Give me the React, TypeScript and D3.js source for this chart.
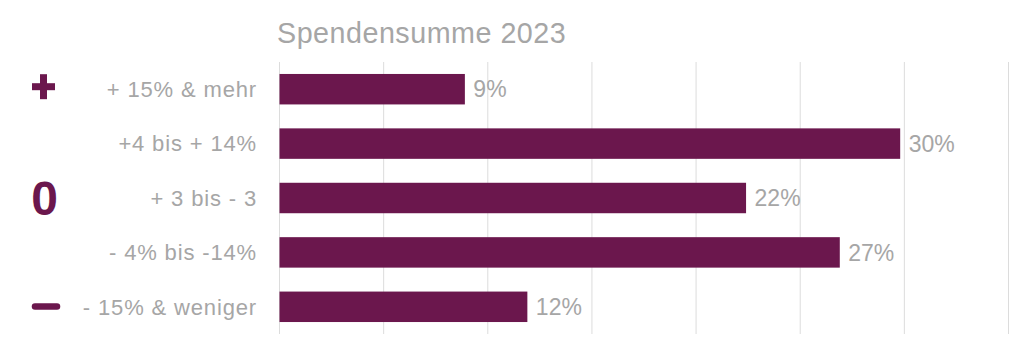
import React from "react";
import * as d3 from "d3";

const categories = ["+ 15% & mehr", "+4 bis + 14%", "+ 3 bis - 3", "- 4% bis -14%", "- 15% & weniger"];
const values = [8.9, 29.8, 22.4, 26.9, 11.9];
const valueLabels = ["9%", "30%", "22%", "27%", "12%"];
const gridTicks = [0, 5, 10, 15, 20, 25, 30, 35];
const title = "Spendensumme 2023";

const W = 1024;
const H = 349;
const PURPLE = "#6b174d";
const GRAY = "#a6a6a6";
const FONT = "'Liberation Sans', Arial, Helvetica, sans-serif";

export default function App() {
  const x = d3.scaleLinear().domain([0, 35]).range([279.5, 1008.5]);
  const y = d3.scaleBand<string>().domain(categories).range([62, 334]).paddingInner(0.44).paddingOuter(0.22);
  const cy = (i: number) => (y(categories[i]) as number) + y.bandwidth() / 2;

  return (
    <svg width={W} height={H} style={{ position: "absolute", left: 0, top: 0 }} fontFamily={FONT}>
      <rect width={W} height={H} fill="#fff" />
      <text x={277} y={43.3} fontSize={28.7} letterSpacing={0.5} fill={GRAY}>{title}</text>
      {gridTicks.map((t) => (
        <line key={t} x1={x(t)} x2={x(t)} y1={62} y2={334} stroke="#dcdcdc" strokeWidth={1} />
      ))}
      {categories.map((c, i) => (
        <g key={c}>
          <rect x={x(0)} y={y(c)} width={x(values[i]) - x(0)} height={y.bandwidth()} fill={PURPLE} />
          <text x={257} y={cy(i)} dy="0.35em" textAnchor="end" fontSize={22} letterSpacing={0.85} fill={GRAY}>{c}</text>
          <text x={x(values[i]) + 8.5} y={cy(i)} dy="0.36em" fontSize={23} fill={GRAY}>{valueLabels[i]}</text>
        </g>
      ))}
      {/* plus icon */}
      <g stroke={PURPLE} strokeWidth={7}>
        <line x1={32} x2={55} y1={cy(0) - 2.5} y2={cy(0) - 2.5} />
        <line x1={43.5} x2={43.5} y1={cy(0) - 15} y2={cy(0) + 10} />
      </g>
      {/* zero icon */}
      <text x={44.5} y={cy(2) + 16.5} textAnchor="middle" fontSize={48} fontWeight="bold" fill={PURPLE}>0</text>
      {/* minus icon */}
      <line x1={35} x2={57} y1={cy(4) - 0.3} y2={cy(4) - 0.3} stroke={PURPLE} strokeWidth={6.5} strokeLinecap="round" />
    </svg>
  );
}
